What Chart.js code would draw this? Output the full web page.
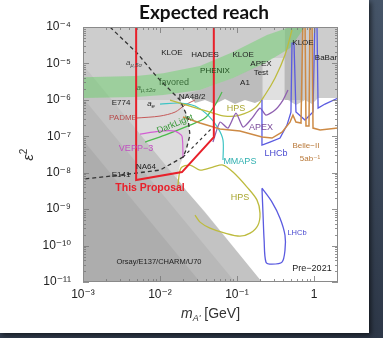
<!DOCTYPE html>
<html>
<head>
<meta charset="utf-8">
<script src="https://cdn.jsdelivr.net/npm/chart.js@4.4.1/dist/chart.umd.min.js"></script>
<style>
  html, body { margin: 0; padding: 0; width: 383px; height: 338px; overflow: hidden;
    background: linear-gradient(170deg, #4b5b6f, #2d3747); }
  #card { position: absolute; left: 0; top: 0; width: 369px; height: 333px; background: #fff;
    box-shadow: 2px 2px 5px rgba(0,0,0,0.6); }
  #wrap { position: absolute; left: 0; top: 0; width: 383px; height: 338px; }
</style>
</head>
<body>
<div id="card"></div>
<div id="wrap"><canvas id="chart" width="383" height="338"></canvas></div>
<script>
// axis ticks
const xTicks = [1e-3, 1e-2, 1e-1, 1];
const yTicks = [1e-11, 1e-10, 1e-9, 1e-8, 1e-7, 1e-6, 1e-5, 1e-4];

// excluded / allowed regions  [mass GeV, eps^2]
const beamDumpOuter = [[0.001, 1e-11], [0.211, 1e-11], [0.001, 9.0e-6]];
const beamDumpMid = [[0.001, 1e-11], [0.0942, 1e-11], [0.001, 1.12e-6]];
const beamDumpInner = [[0.001, 1e-11], [0.0331, 1e-11], [0.001, 7.9e-8]];
const lightLeft = [[0.0049, 9.9e-7], [0.0182, 9.9e-7], [0.0231, 3.16e-7], [0.0245, 1.08e-7],
  [0.0218, 4.2e-8], [0.0199, 2.68e-8], [0.0166, 7.1e-9], [0.0049, 6.3e-9]];
const darkA1 = [[0.0182, 1.36e-6], [0.0331, 1.86e-6], [0.0887, 3.97e-6], [0.211, 9.6e-6],
  [0.211, 7e-7], [0.0182, 7e-7]];
const kloeColumn = [[0.42, 1e-4], [0.72, 1e-4], [0.72, 9.9e-7], [0.42, 9.9e-7]];
const apexTestGap = [[0.218, 9.9e-7], [0.218, 9.0e-6], [0.285, 1.41e-5], [0.41, 1.41e-5], [0.41, 9.9e-7]];
const allowedRegion = [[0.0182, 9.9e-7], [0.0245, 1.19e-6], [0.0285, 8.2e-7], [0.0384, 9.9e-7],
  [0.0518, 7.7e-7], [0.0699, 1.05e-6], [0.0942, 7.7e-7], [0.127, 9.9e-7], [0.171, 8.2e-7],
  [0.211, 9.9e-7], [0.459, 9.9e-7], [0.583, 7.2e-7], [0.764, 9.9e-7], [0.942, 7.7e-7],
  [1.13, 1.12e-6], [2.05, 1.12e-6], [2.05, 1e-11], [0.211, 1e-11], [0.0384, 8.3e-10],
  [0.0218, 3.3e-9], [0.0166, 7.1e-9], [0.0182, 1.62e-8], [0.0199, 2.68e-8], [0.0218, 4.2e-8],
  [0.0245, 1.08e-7], [0.0231, 3.16e-7], [0.0182, 9.9e-7]];
const gm2Band = [[0.001, 4.2e-6], [0.0049, 4.5e-6], [0.011, 5.4e-6], [0.033, 8.5e-6],
  [0.089, 2.06e-5], [0.245, 6.0e-5], [0.49, 1e-4], [0.76, 1e-4], [0.49, 2.65e-5],
  [0.245, 1.09e-5], [0.089, 3.97e-6], [0.033, 1.86e-6], [0.011, 1.36e-6], [0.0049, 1.19e-6],
  [0.001, 1.12e-6]];

// curves
const padme = [[0.0049, 3.16e-7], [0.010, 3.59e-7], [0.0157, 4.62e-7], [0.0211, 7.2e-7], [0.0285, 9.9e-7]];
const darkLight = [[0.0064, 6.93e-8], [0.0116, 1.08e-7], [0.0245, 2.03e-7], [0.0384, 3.16e-7],
  [0.0518, 7.2e-7], [0.0639, 1.64e-6]];
const vepp3 = [[0.0055, 1.15e-7], [0.010, 1.39e-7], [0.0157, 1.39e-7], [0.0193, 1.01e-7], [0.0199, 2.52e-8]];
const mmaps = [[0.010, 7.67e-7], [0.0182, 8.17e-7], [0.0285, 6.76e-7], [0.042, 3.82e-7],
  [0.0567, 1.68e-7], [0.0658, 7.87e-8], [0.0658, 2.22e-8]];
const hpsUpper = [[0.0135, 9.9e-7], [0.0245, 6.76e-7], [0.0446, 4.62e-7], [0.0699, 3.59e-7],
  [0.109, 3.82e-7], [0.171, 5.96e-7], [0.231, 1.36e-6], [0.312, 3.97e-6], [0.42, 1.7e-5], [0.518, 8.28e-5]];
const hpsLower = [[0.0171, 4.56e-9], [0.0187, 1.34e-8], [0.0245, 1.62e-8], [0.0331, 1.18e-8],
  [0.0487, 1.43e-8], [0.0658, 1.62e-8], [0.0887, 1.04e-8], [0.135, 4.02e-9], [0.182, 1.77e-9],
  [0.199, 7.77e-10], [0.187, 3.63e-10], [0.148, 2.19e-10], [0.109, 1.81e-10], [0.0699, 2.19e-10],
  [0.0446, 3.01e-10], [0.0331, 4.4e-10], [0.0285, 6.84e-10]];
const apex = [[0.0487, 6.93e-8], [0.0602, 2.45e-7], [0.0763, 1.68e-7], [0.097, 4.34e-7],
  [0.120, 1.79e-7], [0.157, 3.16e-7], [0.199, 5.96e-7], [0.238, 3.82e-7], [0.312, 5.25e-7],
  [0.396, 9.88e-7], [0.459, 1.86e-6]];
const lhcbPrompt = [[0.211, 9.88e-7], [0.211, 5.73e-8], [0.268, 6.93e-8], [0.362, 8.93e-8],
  [0.446, 2.03e-7], [0.502, 4.62e-7], [0.518, 3.63e-5], [0.55, 3.63e-5], [0.583, 4.62e-7],
  [0.764, 2.79e-7], [0.971, 4.62e-7], [1.03, 2e-4], [1.09, 2e-4], [1.13, 5.96e-7],
  [1.39, 7.67e-7], [2.05, 1.12e-6]];
const lhcbDisplaced = [[0.211, 3.78e-9], [0.218, 6.84e-10], [0.225, 1.41e-10], [0.238, 3.5e-11],
  [0.285, 3.08e-11], [0.384, 3.5e-11], [0.42, 7.48e-11], [0.42, 1.93e-10], [0.362, 5.66e-10],
  [0.285, 1.56e-9], [0.211, 3.78e-9]];
const belle2 = [[0.0199, 3.37e-7], [0.0331, 2.31e-7], [0.0602, 1.58e-7], [0.109, 1.39e-7],
  [0.211, 9.51e-8], [0.285, 8.93e-8], [0.384, 1.30e-7], [0.488, 2.45e-7], [0.533, 3.82e-7],
  [0.583, 2.45e-7], [0.678, 2.31e-7], [0.719, 2e-4], [0.764, 2e-4], [0.787, 1.91e-7],
  [0.861, 1.91e-7], [0.887, 2e-4], [0.942, 2e-4], [0.971, 1.68e-7], [1.20, 1.48e-7], [2.05, 1.68e-7]];
const aeDashed = [[0.00224, 1e-4], [0.00503, 1.93e-5], [0.00914, 4.23e-6], [0.0182, 9.88e-7],
  [0.0231, 3.16e-7], [0.0245, 1.08e-7], [0.0218, 4.18e-8], [0.0199, 2.68e-8], [0.010, 1.18e-8],
  [0.00302, 8.59e-9], [0.001, 6.67e-9]];
const na64Dashed = [[0.0199, 2.68e-8], [0.0473, 1.68e-7]];
const proposal = [[0.0049, 1e-4], [0.0049, 6.3e-9], [0.0193, 1.04e-8], [0.050, 9.5e-8], [0.050, 1e-4]];

const annotations = [
  { t: 'KLOE', m: 0.0143, e: 1.93e-5 },
  { t: 'HADES', m: 0.0384, e: 1.70e-5 },
  { t: 'KLOE', m: 0.120, e: 1.70e-5 },
  { t: 'KLOE', m: 0.72, e: 3.63e-5 },
  { t: 'BaBar', m: 1.43, e: 1.41e-5 },
  { t: 'PHENIX', m: 0.0518, e: 6.2e-6, color: '#1e4e1e' },
  { t: 'APEX', m: 0.205, e: 9.6e-6 },
  { t: 'Test', m: 0.205, e: 5.45e-6 },
  { t: 'A1', m: 0.127, e: 2.9e-6 },
  { t: 'a', sub: 'μ,5σ', m: 0.00459, e: 1.03e-5, italic: true, color: '#444' },
  { t: 'a', sub: 'μ,±2σ', m: 0.0066, e: 2.11e-6, italic: true, color: '#3b6e3b' },
  { t: 'favored', m: 0.0152, e: 2.9e-6, color: '#3b6e3b', size: 9 },
  { t: 'NA48/2', m: 0.0261, e: 1.19e-6 },
  { t: 'E774', m: 0.00312, e: 8.2e-7 },
  { t: 'a', sub: 'e', m: 0.00764, e: 7.7e-7, italic: true },
  { t: 'PADME', m: 0.00331, e: 3.16e-7, color: '#b84848' },
  { t: 'VEPP−3', m: 0.00488, e: 4.74e-8, color: '#c04ec0', size: 9 },
  { t: 'NA64', m: 0.00658, e: 1.43e-8 },
  { t: 'E141', m: 0.00312, e: 8.6e-9 },
  { t: 'This Proposal', m: 0.00742, e: 3.78e-9, color: '#e8202a', bold: true, size: 10.5 },
  { t: 'DarkLight', m: 0.0157, e: 2.16e-7, color: '#3a9a3a', rot: -22, size: 9 },
  { t: 'HPS', m: 0.097, e: 5.96e-7, color: '#a8a630', size: 9 },
  { t: 'APEX', m: 0.205, e: 1.79e-7, color: '#7a4a9a', size: 9 },
  { t: 'LHCb', m: 0.321, e: 3.45e-8, color: '#4a4ad0', size: 9 },
  { t: 'Belle−II', m: 0.787, e: 5.38e-8, color: '#b87838' },
  { t: '5ab⁻¹', m: 0.887, e: 2.37e-8, color: '#b87838' },
  { t: 'MMAPS', m: 0.109, e: 2.09e-8, color: '#30b0b0', size: 9 },
  { t: 'HPS', m: 0.109, e: 2.14e-9, color: '#a8a630', size: 9 },
  { t: 'LHCb', m: 0.601, e: 2.19e-10, color: '#4a4ad0', size: 7.5 },
  { t: 'Orsay/E137/CHARM/U70', m: 0.0097, e: 3.5e-11, size: 7.5 },
  { t: 'Pre−2021', m: 0.942, e: 2.39e-11, size: 9 }
];

const FAM = "'Liberation Sans', 'DejaVu Sans', Arial, sans-serif";

function toXY(pts) { return pts.map(p => ({ x: p[0], y: p[1] })); }

function area(pts, color) {
  return { data: toXY(pts), showLine: true, fill: 'shape', backgroundColor: color,
    borderColor: 'rgba(0,0,0,0)', borderWidth: 0, pointRadius: 0, tension: 0 };
}
function curve(pts, color, width, tension, dash) {
  return { data: toXY(pts), showLine: true, fill: false, borderColor: color, borderWidth: width,
    borderDash: dash || [], pointRadius: 0, tension: tension };
}

// bottom to top
const layers = [
  area(lightLeft, '#dcdcdc'),
  area(darkA1, '#bcbcbc'),
  area(kloeColumn, '#b9b9b9'),
  area(apexTestGap, '#e0e0e0'),
  area(beamDumpOuter, '#c3c3c3'),
  area(beamDumpMid, '#b8b8b8'),
  area(beamDumpInner, '#adadad'),
  area(allowedRegion, '#ffffff'),
  area(gm2Band, 'rgba(90,210,90,0.42)'),
  curve(padme, '#c65a5a', 1, 0.3),
  curve(darkLight, '#4cba4c', 1.2, 0.3),
  curve(vepp3, '#d25ed2', 1.2, 0.2),
  curve(mmaps, '#3ec4c4', 1.2, 0.3),
  curve(hpsUpper, '#bdbb3e', 1.3, 0.3),
  curve(hpsLower, '#bdbb3e', 1.3, 0.3),
  curve(apex, '#8f5fb0', 1.3, 0.2),
  curve(lhcbPrompt, '#5a5ae0', 1.3, 0),
  curve(lhcbDisplaced, '#5a5ae0', 1.3, 0.3),
  curve(belle2, '#cd8a45', 1.5, 0),
  curve(aeDashed, '#333333', 1.3, 0, [4, 3]),
  curve(na64Dashed, '#333333', 1.1, 0, [3, 3]),
  curve(proposal, '#e8202a', 2, 0)
];
layers.forEach((d, i) => { d.order = layers.length - i; });

const sup = { '-': '⁻', '0': '⁰', '1': '¹', '2': '²', '3': '³', '4': '⁴', '5': '⁵', '6': '⁶', '7': '⁷', '8': '⁸', '9': '⁹' };
function decadeLabel(v) {
  const p = Math.round(Math.log10(v));
  if (p === 0) return '1';
  return '10' + String(p).split('').map(c => sup[c]).join('');
}

const plotBg = {
  id: 'plotBg',
  beforeDatasetsDraw(chart) {
    const { ctx, chartArea: a } = chart;
    ctx.save();
    ctx.fillStyle = '#cdcdcd';
    ctx.fillRect(a.left, a.top, a.right - a.left, a.bottom - a.top);
    ctx.restore();
  }
};

function drawLabel(ctx, L, x, y) {
  const size = L.size || 8;
  const main = (L.italic ? 'italic ' : '') + (L.bold ? 'bold ' : '') + size + 'px ' + FAM;
  const subF = 'italic ' + (size * 0.72).toFixed(1) + 'px ' + FAM;
  ctx.save();
  ctx.translate(x, y);
  if (L.rot) ctx.rotate(L.rot * Math.PI / 180);
  ctx.font = main;
  const w1 = ctx.measureText(L.t).width;
  let w2 = 0;
  if (L.sub) { ctx.font = subF; w2 = ctx.measureText(L.sub).width; }
  let cx = -(w1 + w2) / 2;
  ctx.fillStyle = L.color || '#222';
  ctx.textBaseline = 'middle';
  ctx.textAlign = 'left';
  ctx.font = main;
  ctx.fillText(L.t, cx, 0);
  if (L.sub) { ctx.font = subF; ctx.fillText(L.sub, cx + w1, size * 0.3); }
  ctx.restore();
}

const overlay = {
  id: 'overlay',
  afterDatasetsDraw(chart) {
    const { ctx, chartArea: a, scales } = chart;
    const xs = scales.x, ys = scales.y;
    ctx.save();
    // ticks inside frame
    ctx.strokeStyle = '#777';
    ctx.lineWidth = 0.8;
    ctx.beginPath();
    for (let p = -3; p <= 0; p++) {
      for (let k = 1; k <= 9; k++) {
        const v = k * Math.pow(10, p);
        if (v < xs.min || v > xs.max) continue;
        const px = Math.round(xs.getPixelForValue(v)) + 0.5;
        const len = k === 1 ? 6 : 3;
        ctx.moveTo(px, a.bottom); ctx.lineTo(px, a.bottom - len);
        ctx.moveTo(px, a.top); ctx.lineTo(px, a.top + len);
      }
    }
    for (let p = -11; p <= -4; p++) {
      for (let k = 1; k <= 9; k++) {
        const v = k * Math.pow(10, p);
        if (v < ys.min * 0.999 || v > ys.max * 1.001) continue;
        const py = Math.round(ys.getPixelForValue(v)) + 0.5;
        const len = k === 1 ? 6 : 3;
        ctx.moveTo(a.left, py); ctx.lineTo(a.left + len, py);
        ctx.moveTo(a.right, py); ctx.lineTo(a.right - len, py);
      }
    }
    ctx.stroke();
    ctx.strokeStyle = '#8a8a8a';
    ctx.lineWidth = 1;
    ctx.strokeRect(a.left + 0.5, a.top + 0.5, a.right - a.left - 1, a.bottom - a.top - 1);
    ctx.restore();

    annotations.forEach(L => {
      drawLabel(ctx, L, xs.getPixelForValue(L.m), ys.getPixelForValue(L.e));
    });

    // axis titles
    ctx.save();
    ctx.fillStyle = '#333';
    ctx.textBaseline = 'alphabetic';
    const f1 = 'italic 14px ' + FAM, f2 = 'italic 9px ' + FAM, f3 = '14px ' + FAM;
    ctx.font = f1; const wm = ctx.measureText('m').width;
    ctx.font = f2; const wa = ctx.measureText("A'").width;
    ctx.font = f3; const wg = ctx.measureText(' [GeV]').width;
    let tx = (a.left + a.right) / 2 - (wm + wa + wg) / 2;
    const ty = a.bottom + 36;
    ctx.font = f1; ctx.fillText('m', tx, ty);
    ctx.font = f2; ctx.fillText("A'", tx + wm, ty + 3);
    ctx.font = f3; ctx.fillText(' [GeV]', tx + wm + wa, ty);

    ctx.translate(a.left - 50, (a.top + a.bottom) / 2);
    ctx.rotate(-Math.PI / 2);
    ctx.font = 'italic 15px ' + FAM;
    const we = ctx.measureText('ε').width;
    ctx.fillText('ε', -(we + 6) / 2, 0);
    ctx.font = '10px ' + FAM;
    ctx.fillText('2', -(we + 6) / 2 + we, -6);
    ctx.restore();
  }
};

new Chart(document.getElementById('chart'), {
  type: 'scatter',
  data: { datasets: layers },
  options: {
    responsive: false,
    animation: false,
    layout: { padding: { left: 25, right: 0, top: 0, bottom: 0 } },
    plugins: {
      legend: { display: false },
      tooltip: { enabled: false },
      title: {
        display: true,
        text: 'Expected reach',
        color: '#111',
        font: { family: 'Lato', weight: 'bold', size: 19 },
        padding: { top: 1, bottom: 3.2 }
      }
    },
    scales: {
      x: {
        type: 'logarithmic', min: 1e-3, max: 2.05,
        afterBuildTicks: s => { s.ticks = xTicks.map(v => ({ value: v })); },
        afterFit: s => { s.height = 56; },
        ticks: { callback: v => decadeLabel(v), color: '#222', padding: -3, maxRotation: 0,
          autoSkip: false, font: { family: FAM, size: 12 } },
        grid: { display: false },
        border: { display: false }
      },
      y: {
        type: 'logarithmic', min: 1e-11, max: 1e-4, position: 'left',
        afterBuildTicks: s => { s.ticks = yTicks.map(v => ({ value: v })); },
        afterFit: s => { s.width = 58; },
        ticks: { callback: v => decadeLabel(v), color: '#222', padding: 4,
          autoSkip: false, font: { family: FAM, size: 12 } },
        grid: { display: false },
        border: { display: false }
      },
      yR: {
        type: 'linear', position: 'right', display: true,
        afterFit: s => { s.width = 45; },
        ticks: { display: false },
        grid: { display: false },
        border: { display: false }
      }
    }
  },
  plugins: [plotBg, overlay]
});
</script>
</body>
</html>
